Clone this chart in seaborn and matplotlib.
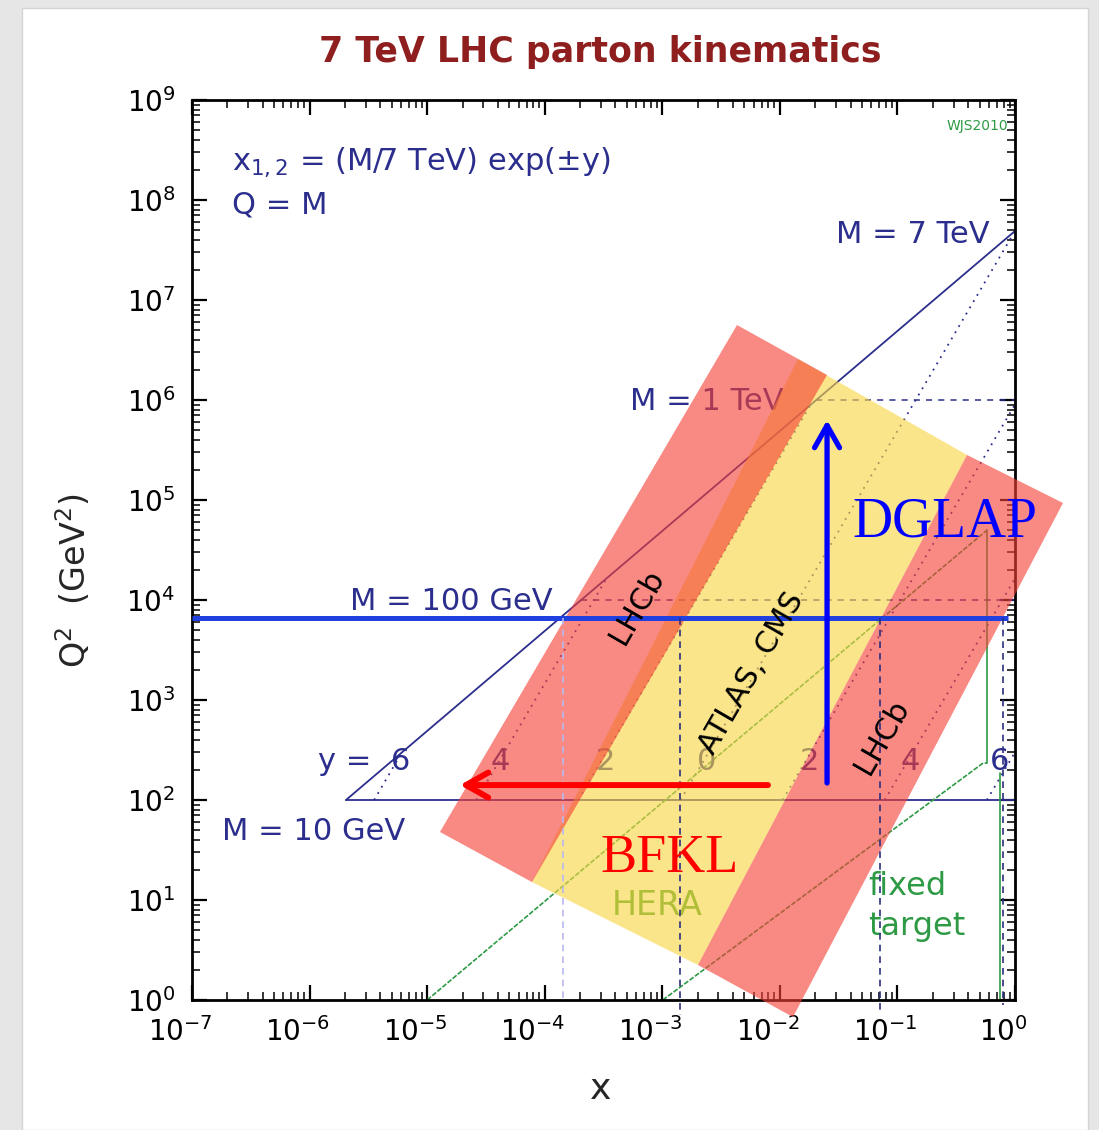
import numpy as np
import pandas as pd
import matplotlib
matplotlib.use("Agg")
import matplotlib.pyplot as plt
import seaborn as sns
from matplotlib.patches import Rectangle
from matplotlib.ticker import LogLocator, LogFormatterMathtext, NullFormatter
from matplotlib.transforms import ScaledTranslation

# ---------------- data (x, Q^2 in GeV^2) ----------------
# kinematic edge x = Q^2/s and the M = 10 GeV floor
edge_x = [2.04e-6, 1.0]
edge_q2 = [100.0, 4.9e7]
floor_x = [2.04e-6, 1.0]
floor_q2 = [100.0, 100.0]

# fixed-mass (dashed) lines
mass_x_start = [2.04e-4, 2.04e-2]
mass_x_end = [1.0, 1.0]
mass_q2 = [1.0e4, 1.0e6]

# constant-rapidity (dotted) lines
rap_labels = ["y =  6", "4", "2", "0", "2", "4", "6"]
rap_x_start = [3.54e-6, 2.62e-5, 1.93e-4, 1.43e-3, 1.056e-2, 7.8e-2, 0.576]
rap_q2_start = [100.0, 100.0, 100.0, 100.0, 100.0, 100.0, 100.0]
rap_x_end = [6.1e-6, 3.35e-4, 1.83e-2, 1.0, 1.0, 1.0, 1.0]
rap_q2_end = [300.0, 1.64e4, 9.0e5, 4.9e7, 9.0e5, 1.64e4, 300.0]
rap_label_x = [1.18e-6, 4.17e-5, 3.26e-4, 2.40e-3, 1.80e-2, 0.128, 0.745]
rap_label_q2 = 200.0

# HERA and fixed-target reach
hera_diag_x = [1.0e-5, 0.578]
hera_diag_q2 = [1.0, 5.0e4]
hera_wall_x = [0.578, 0.578]
hera_wall_q2 = [5.0e4, 234.0]
ft_diag_x = [1.01e-3, 0.535, 0.578]
ft_diag_q2 = [1.0, 234.0, 234.0]
ft_wall_x = [0.745, 0.745]
ft_wall_q2 = [186.0, 1.0]

# detector acceptance bands (corners)
lhcb_back_x = [4.32e-3, 2.52e-2, 7.8e-5, 1.285e-5]
lhcb_back_q2 = [5.62e6, 1.78e6, 15.1, 47.9]
central_x = [1.426e-2, 0.391, 2.01e-3, 7.8e-5]
central_q2 = [2.57e6, 2.82e5, 2.24, 15.1]
lhcb_fwd_x = [0.391, 2.56, 1.294e-2, 2.01e-3]
lhcb_fwd_q2 = [2.82e5, 9.33e4, 0.676, 2.24]

# electroweak scale line and drop lines
ew_q2 = 6600.0
ew_x = [1.0e-7, 0.872]
drop_x = [1.416e-3, 0.0711, 0.791]
drop_bottom = [0.71, 0.79, 0.89]
drop_light_x = 1.43e-4
drop_light_bottom = 1.0

# evolution arrows
dglap_x = 0.0252
dglap_q2 = [148.0, 6.3e5]
bfkl_q2 = 141.0
bfkl_x = [7.92e-3, 1.9e-5]

# ---------------- style ----------------
sns.set_theme(style="ticks")
plt.rcParams["font.family"] = ["DejaVu Sans"]
plt.rcParams["mathtext.default"] = "regular"

NAVY = "#2b2e8c"
GREEN = "#2f9a45"
RED = (245 / 255, 65 / 255, 55 / 255)
YELLOW = (249 / 255, 213 / 255, 66 / 255)
BAND_ALPHA = 0.62

fig = plt.figure(figsize=(10.99, 11.30), dpi=100, facecolor="#e6e6e6")
fig.add_artist(Rectangle((22 / 1099, 0), 1066 / 1099, 1122 / 1130,
                         transform=fig.transFigure, facecolor="white",
                         edgecolor="#d4d4d4", lw=1.0, zorder=-5))
ax = fig.add_axes([192 / 1099, 1 - 1000 / 1130, 823 / 1099, 900 / 1130])
ax.set_xscale("log")
ax.set_yscale("log")
ax.set_facecolor("white")


def segments(xs0, ys0, xs1, ys1):
    rows = []
    for i, (a, b, c, d) in enumerate(zip(xs0, ys0, xs1, ys1)):
        rows.append({"x": a, "q2": b, "seg": i})
        rows.append({"x": c, "q2": d, "seg": i})
    return pd.DataFrame(rows)


def polyline(xs, ys):
    return pd.DataFrame({"x": xs, "q2": ys, "seg": 0})


line_kw = dict(x="x", y="q2", units="seg", estimator=None, sort=False, ax=ax)

# solid kinematic edge and floor
sns.lineplot(data=polyline(edge_x, edge_q2), color=NAVY, lw=1.3, zorder=3, **line_kw)
sns.lineplot(data=polyline(floor_x, floor_q2), color=NAVY, lw=1.3, zorder=3, **line_kw)
# fixed-mass dashed lines
sns.lineplot(data=segments(mass_x_start, mass_q2, mass_x_end, mass_q2),
             color=NAVY, lw=1.1, linestyle=(0, (4, 4)), zorder=3, **line_kw)
# rapidity dotted lines
sns.lineplot(data=segments(rap_x_start, rap_q2_start, rap_x_end, rap_q2_end),
             color=NAVY, lw=1.3, linestyle=(0, (1, 3)), zorder=3, **line_kw)
# HERA / fixed target reach
sns.lineplot(data=polyline(hera_diag_x, hera_diag_q2), color=GREEN, lw=1.2,
             linestyle=(0, (3, 1)), zorder=3, **line_kw)
sns.lineplot(data=polyline(hera_wall_x, hera_wall_q2), color=GREEN, lw=1.2, zorder=3, **line_kw)
sns.lineplot(data=polyline(ft_diag_x, ft_diag_q2), color=GREEN, lw=1.2,
             linestyle=(0, (3, 1)), zorder=3, **line_kw)
sns.lineplot(data=polyline(ft_wall_x, ft_wall_q2), color=GREEN, lw=1.2, zorder=3, **line_kw)

# annotations of the kinematics figure
ax.text(2.19e-7, 2.0e8, r"$x_{1,2}$ = (M/7 TeV) exp(±y)", color=NAVY, fontsize=22,
        ha="left", va="baseline", zorder=3)
ax.text(2.19e-7, 7.4e7, "Q = M", color=NAVY, fontsize=22, ha="left", va="baseline", zorder=3)
ax.text(0.871, 5.0e8, "WJS2010", color=GREEN, fontsize=10, ha="right", va="baseline", zorder=3)
ax.text(0.613, 3.7e7, "M = 7 TeV", color=NAVY, fontsize=22, ha="right", va="baseline", zorder=3)
ax.text(5.31e-4, 7.9e5, "M = 1 TeV", color=NAVY, fontsize=22, ha="left", va="baseline", zorder=3)
ax.text(2.21e-6, 7.9e3, "M = 100 GeV", color=NAVY, fontsize=22, ha="left", va="baseline", zorder=3)
ax.text(1.8e-7, 39.8, "M = 10 GeV", color=NAVY, fontsize=22, ha="left", va="baseline", zorder=3)
for lab, lx in zip(rap_labels, rap_label_x):
    ax.text(lx, rap_label_q2, lab, color=NAVY, fontsize=22,
            ha="left" if lab.startswith("y") else "center", va="baseline", zorder=3)
ax.text(3.73e-4, 7.0, "HERA", color="#3a9a2a", fontsize=24, ha="left", va="baseline", zorder=3)
ax.text(0.0562, 11.2, "fixed", color=GREEN, fontsize=23, ha="left", va="baseline", zorder=3)
ax.text(0.0562, 4.47, "target", color=GREEN, fontsize=23, ha="left", va="baseline", zorder=3)

# acceptance bands laid over the figure
ax.fill(central_x, central_q2, color=YELLOW, alpha=BAND_ALPHA, lw=0, zorder=4, clip_on=False)
ax.fill(lhcb_back_x, lhcb_back_q2, color=RED, alpha=BAND_ALPHA, lw=0, zorder=4.1, clip_on=False)
ax.fill(lhcb_fwd_x, lhcb_fwd_q2, color=RED, alpha=BAND_ALPHA, lw=0, zorder=4.1, clip_on=False)

# electroweak scale and drops to the x axis
ax.plot(ew_x, [ew_q2, ew_q2], color="#2040e0", lw=3.6, zorder=6, solid_capstyle="butt")
for dx, db in zip(drop_x, drop_bottom):
    ax.plot([dx, dx], [ew_q2, db], color="#2c2f80", lw=1.2, linestyle=(0, (4, 3)),
            zorder=6, clip_on=False)
ax.plot([drop_light_x, drop_light_x], [ew_q2, drop_light_bottom], color="#b8b8f0", lw=1.2,
        linestyle=(0, (4, 3)), zorder=6, clip_on=False)

# detector labels
ax.text(6.1e-4, 8.5e3, "LHCb", color="black", fontsize=22, rotation=60,
        rotation_mode="anchor", ha="center", va="center", zorder=7)
ax.text(5.8e-3, 1.86e3, "ATLAS, CMS", color="black", fontsize=22, rotation=60,
        rotation_mode="anchor", ha="center", va="center", zorder=7)
ax.text(0.074, 427, "LHCb", color="black", fontsize=22, rotation=60,
        rotation_mode="anchor", ha="center", va="center", zorder=7)

# evolution arrows
ax.annotate("", xy=(dglap_x, dglap_q2[1]), xytext=(dglap_x, dglap_q2[0]),
            arrowprops=dict(arrowstyle="->,head_length=0.8,head_width=0.45", lw=3.8,
                            color="#0000ff", shrinkA=0, shrinkB=0, mutation_scale=20),
            zorder=8)
ax.annotate("", xy=(bfkl_x[1], bfkl_q2), xytext=(bfkl_x[0], bfkl_q2),
            arrowprops=dict(arrowstyle="->,head_length=0.8,head_width=0.45", lw=4.3,
                            color="#ff0000", shrinkA=0, shrinkB=0, mutation_scale=20),
            zorder=8)
ax.text(0.0411, 4.27e4, "DGLAP", color="#0000ff", fontsize=40, family="Liberation Serif",
        ha="left", va="baseline", zorder=8)
ax.text(2.95e-4, 19.0, "BFKL", color="#ff0000", fontsize=39, family="Liberation Serif",
        ha="left", va="baseline", zorder=8)

# ---------------- axes ----------------
ax.set_xlim(1e-7, 1.0)
ax.set_ylim(1.0, 1e9)
ax.xaxis.set_major_locator(LogLocator(base=10, numticks=20))
ax.yaxis.set_major_locator(LogLocator(base=10, numticks=20))
ax.xaxis.set_minor_locator(LogLocator(base=10, subs=np.arange(2, 10), numticks=100))
ax.yaxis.set_minor_locator(LogLocator(base=10, subs=np.arange(2, 10), numticks=100))
ax.xaxis.set_major_formatter(LogFormatterMathtext())
ax.yaxis.set_major_formatter(LogFormatterMathtext())
ax.xaxis.set_minor_formatter(NullFormatter())
ax.yaxis.set_minor_formatter(NullFormatter())
ax.tick_params(which="both", direction="in", top=True, right=True, colors="black")
ax.tick_params(which="major", length=11, width=1.6, labelsize=20, pad=12)
ax.tick_params(which="minor", length=5.5, width=1.1)
for sp in ax.spines.values():
    sp.set_linewidth(2.0)
    sp.set_color("black")
    sp.set_zorder(3.5)

ax.set_xlabel("x", fontsize=26)
ax.set_ylabel(r"Q$^2$  (GeV$^2$)", fontsize=24)
ax.xaxis.set_label_coords(0.496, -0.08)
ax.yaxis.set_label_coords(-0.12, 0.466)

shift = ScaledTranslation(-0.12, 0, fig.dpi_scale_trans)
for lbl in ax.get_xticklabels():
    lbl.set_transform(lbl.get_transform() + shift)

fig.text(600 / 1099, 1 - 62 / 1130, "7 TeV LHC parton kinematics", color="#8f1f1f",
         fontsize=25, fontweight="bold", ha="center", va="baseline")

fig.savefig("out.png", dpi=100, facecolor=fig.get_facecolor())
